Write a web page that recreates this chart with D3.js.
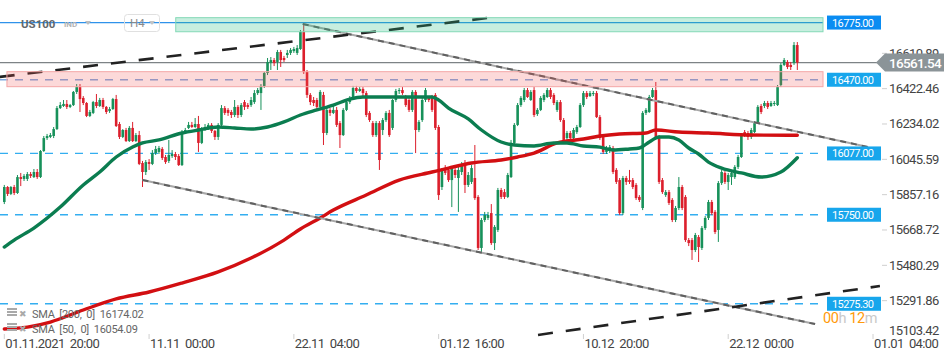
<!DOCTYPE html>
<html><head><meta charset="utf-8">
<script src="https://cdn.jsdelivr.net/npm/d3@7"></script>
<style>html,body{margin:0;padding:0;background:#fff;}svg{display:block;font-family:Roboto,"Noto Sans",sans-serif;}</style>
</head><body>
<svg id="chart" width="950" height="361"></svg>
<script>
// ---------- DATA ----------
const symbol = "US100", symbolType = "IND", timeframe = "H4";
const opens = [
15818,15898,15861,15898,15866,15951,15941,15941,15967,15951,
15978,15951,16090,16159,16165,16170,16207,16319,16330,16341,
16325,16335,16405,16431,16373,16346,16277,16293,16351,16330,
16362,16325,16303,16314,16367,16234,16165,16202,16143,16213,
16143,16175,16026,15978,16031,16021,16079,16085,16101,16058,
16037,16063,16074,16063,16015,16186,16213,16229,16218,16234,
16133,16207,16213,16229,16197,16165,16229,16319,16309,16298,
16282,16325,16282,16351,16335,16335,16351,16399,16399,16437,
16506,16559,16575,16565,16618,16586,16602,16613,16623,16613,
16634,16725,16511,16389,16362,16362,16325,16389,16186,16309,
16293,16309,16239,16175,16309,16351,16373,16426,16410,16421,
16399,16293,16239,16175,16239,16202,16255,16293,16213,16362,
16410,16415,16378,16362,16309,16405,16202,16255,16362,16373,
16378,16389,16218,15898,15999,15989,15935,15989,15946,15978,
16015,15909,15925,15946,15845,15573,15722,15733,15759,15599,
15669,15882,15871,15845,15951,16133,16229,16335,16362,16415,
16362,16415,16287,16309,16362,16378,16415,16389,16309,16351,
16255,16159,16186,16159,16191,16218,16335,16399,16383,16394,
16399,16271,16165,16085,16090,16106,15989,15935,15759,15946,
15935,15935,15909,15845,15786,16293,16298,16378,16415,16165,
15935,15855,15871,15829,15722,15786,15898,15845,15615,15615,
15562,15631,15573,15679,15733,15818,15765,15669,15919,15973,
15925,15951,15951,16005,16058,16191,16186,16165,16191,16239,
16330,16330,16346,16330,16341,16335,16442,16549,16565,16549,16559,16655];
const highs = [
15909,15903,15903,15909,15962,15973,15967,15978,15978,15994,
15994,16095,16170,16181,16186,16218,16330,16351,16362,16362,
16341,16410,16447,16447,16383,16351,16309,16357,16394,16373,
16373,16330,16325,16373,16389,16245,16207,16213,16223,16245,
16186,16197,16037,16042,16047,16095,16117,16117,16111,16069,
16149,16095,16085,16074,16202,16213,16245,16245,16266,16277,
16218,16234,16239,16239,16202,16239,16335,16330,16319,16309,
16362,16335,16346,16362,16346,16378,16415,16426,16447,16511,
16586,16591,16586,16629,16629,16597,16629,16639,16645,16655,
16735,16767,16522,16399,16378,16373,16415,16405,16319,16319,
16335,16325,16250,16319,16362,16383,16437,16437,16431,16431,
16410,16303,16250,16250,16250,16266,16303,16309,16367,16421,
16426,16431,16389,16373,16415,16415,16255,16373,16426,16383,
16389,16399,16229,15999,16015,15999,16010,15999,16015,16031,
16042,15978,16015,16122,15855,15733,15765,15765,15807,15695,
15893,15893,15887,15973,16149,16239,16346,16383,16426,16426,
16415,16431,16319,16383,16399,16426,16426,16399,16362,16362,
16266,16197,16197,16213,16229,16346,16410,16410,16410,16410,
16410,16282,16175,16117,16122,16117,15999,15946,15957,15957,
15989,15946,15919,15855,16303,16319,16389,16426,16458,16175,
15946,15882,15882,15839,15797,15951,15909,15855,15626,15626,
15653,15642,15690,15743,15829,15829,15775,15930,15989,15983,
15973,15983,16015,16069,16186,16202,16197,16213,16250,16335,
16341,16357,16357,16357,16357,16442,16559,16586,16575,16565,16671,16671];
const lows = [
15807,15850,15855,15855,15861,15903,15930,15930,15946,15946,
15941,15946,16085,16149,16159,16159,16202,16314,16325,16314,
16319,16330,16394,16298,16335,16271,16271,16287,16319,16325,
16314,16287,16293,16309,16218,16154,16159,16138,16138,16138,
16138,16015,15898,15962,15989,16015,16069,16074,16042,16021,
16026,16053,16042,16010,16010,16181,16207,16213,16213,16085,
16127,16197,16202,16186,16149,16149,16223,16282,16277,16266,
16271,16266,16271,16309,16314,16325,16341,16389,16309,16426,
16495,16522,16543,16522,16538,16565,16586,16602,16613,16602,
16629,16501,16373,16335,16330,16314,16309,16122,16175,16277,
16287,16218,16106,16170,16303,16341,16362,16399,16405,16383,
16271,16245,16165,16165,15989,16175,16245,16165,16202,16351,
16394,16389,16325,16298,16298,16079,16191,16245,16351,16351,
16298,16202,15829,15882,15962,15925,15791,15946,15765,15962,
15866,15898,15914,15829,15562,15546,15711,15722,15589,15562,
15658,15834,15834,15839,15946,16122,16223,16325,16351,16373,
16357,16271,16277,16303,16351,16373,16367,16335,16298,16245,
16138,16149,16149,16149,16181,16213,16325,16367,16378,16383,
16266,16149,16074,16074,16079,15967,15914,15749,15749,15909,
15914,15887,15829,15818,15775,16282,16293,16373,16159,15914,
15861,15845,15802,15711,15711,15775,15775,15605,15583,15509,
15551,15498,15562,15669,15722,15749,15647,15605,15909,15914,
15882,15909,15941,15994,16053,16165,16149,16154,16186,16234,
16287,16319,16314,16325,16330,16330,16431,16543,16527,16522,16549,16522];
const closes = [
15898,15861,15898,15866,15951,15941,15957,15967,15957,15978,
15951,16090,16159,16170,16175,16207,16319,16335,16341,16325,
16335,16405,16431,16367,16346,16277,16298,16351,16330,16362,
16325,16298,16314,16367,16223,16165,16202,16143,16213,16143,
16175,16021,15978,16031,16021,16079,16101,16106,16053,16031,
16069,16074,16058,16015,16191,16202,16229,16218,16234,16133,
16207,16218,16229,16197,16165,16229,16319,16293,16293,16282,
16325,16282,16335,16325,16325,16362,16399,16415,16437,16506,
16565,16575,16559,16618,16575,16575,16613,16629,16634,16639,
16725,16511,16389,16351,16346,16325,16405,16186,16309,16293,
16309,16229,16175,16309,16351,16373,16426,16410,16421,16399,
16282,16255,16175,16239,16042,16255,16293,16175,16362,16410,
16415,16399,16335,16309,16405,16202,16245,16362,16415,16362,
16309,16213,15855,15989,15973,15935,15999,15962,15989,16015,
15909,15962,15999,15839,15573,15722,15749,15749,15599,15685,
15882,15845,15845,15962,16133,16229,16335,16373,16415,16378,
16405,16282,16309,16373,16389,16415,16378,16346,16351,16255,
16149,16186,16159,16202,16218,16335,16399,16378,16399,16399,
16271,16159,16085,16106,16111,15978,15925,15759,15946,15925,
15925,15898,15839,15829,16293,16309,16378,16415,16165,15925,
15871,15871,15813,15722,15786,15898,15786,15615,15599,15562,
15642,15578,15679,15733,15818,15759,15658,15919,15978,15925,
15962,15973,16005,16058,16175,16175,16165,16202,16239,16325,
16298,16346,16325,16346,16346,16431,16549,16575,16538,16538,16655,16561.54];

const sma50Idx = [0,3,9,17,24,29,34,39,42,47,54,59,65,70,75,80,85,90,95,100,105,109,120,130,132,135,141,145,151,155,161,167,171,176,181,185,190,193,196,199,202,205,208,211,214,218,224,230,236,241];
const sma50Val = [15578,15615,15679,15791,15909,15978,16058,16111,16133,16149,16186,16202,16218,16213,16207,16218,16245,16282,16309,16335,16367,16378,16378,16378,16362,16319,16261,16202,16138,16122,16117,16133,16133,16117,16111,16095,16101,16106,16138,16165,16165,16149,16106,16074,16031,15999,15973,15951,15978,16054.09];
const sma200Idx = [0,7,14,24,34,44,54,65,75,85,90,96,100,110,120,130,135,142,151,156,161,168,176,181,187,195,198,205,214,227,241];
const sma200Val = [15141,15151,15178,15242,15301,15338,15386,15445,15519,15615,15674,15733,15775,15855,15935,15978,15999,16026,16042,16058,16079,16133,16154,16170,16181,16186,16202,16191,16186,16175,16174.02];

const levelValues = [16775.00, 16470.00, 16077.00, 15750.00, 15275.30];
const levelLabels = ["16775.00","16470.00","16077.00","15750.00","15275.30"];
const currentPrice = 16561.54;
const yTickValues = [16610.89,16422.46,16234.02,16045.59,15857.16,15668.72,15480.29,15291.86,15103.42];
const xTickIdx = [0,44,88,132,176,220,264];
const xTickLabels = ["01.11.2021  20:00","11.11  00:00","22.11  04:00","01.12  16:00","10.12  20:00","22.12  00:00","01.01  04:00"];
const legendLabels = ["SMA  [200,  0]  16174.02","SMA  [50,  0]  16054.09"];
const countdown = ["00","h"," 12","m"];
// trend lines: [index, price]
const greyUpper = [[90.7,16767],[262.5,16111]];
const greyLower = [[42,15935],[246.4,15167]];
const blackUpper = [[-1.4,16485],[146.7,16799]];
const blackLower = [[162.2,15109],[266.1,15370]];
// zones: [startIndex, top price, bottom price]
const greenZone = [52.1,16801,16726];
const pinkZone = [0.8,16513,16433];

// ---------- SCALES ----------
const svg = d3.select("#chart");
const x = d3.scaleLinear().domain([0,264]).range([4.3,873]);
const y = d3.scaleLinear().domain([15103.42,16610.89]).range([336,53.33]);
const lineEnd = 823;
const candles = opens.map((o,i)=>({i,o,h:highs[i],l:lows[i],c:closes[i]}));

// ---------- LEVEL LINES ----------
const gLev = svg.append("g");
levelValues.forEach((v,k)=>{
  const ln = gLev.append("line").attr("x1",0).attr("x2",lineEnd).attr("y1",y(v)).attr("y2",y(v))
    .attr("stroke-width",1.3);
  if(k===0){ ln.attr("stroke","#2f92ea"); }
  else if(k===1){ ln.attr("stroke","#7fa9e0").attr("stroke-dasharray","8,7"); }
  else { ln.attr("stroke","#34aef0").attr("stroke-dasharray","8,7"); }
});
// current price line
svg.append("line").attr("x1",0).attr("x2",877).attr("y1",y(currentPrice)).attr("y2",y(currentPrice))
  .attr("stroke","#7d8386").attr("stroke-width",1.2);

// ---------- CANDLES ----------
const gC = svg.append("g");
const up = "#17915a", dn = "#dc1f2c";
gC.selectAll("line.w").data(candles).join("line")
  .attr("x1",d=>x(d.i)).attr("x2",d=>x(d.i))
  .attr("y1",d=>y(Math.max(d.h,d.o,d.c))).attr("y2",d=>y(Math.min(d.l,d.o,d.c)))
  .attr("stroke",d=>d.c>=d.o?up:dn).attr("stroke-width",1);
gC.selectAll("rect").data(candles).join("rect")
  .attr("x",d=>x(d.i)-1.3).attr("width",2.6)
  .attr("y",d=>y(Math.max(d.o,d.c)))
  .attr("height",d=>Math.max(1,Math.abs(y(d.o)-y(d.c))))
  .attr("fill",d=>d.c>=d.o?up:dn);

// ---------- SMA ----------
const smaLine = d3.line().x(d=>x(d[0])).y(d=>y(d[1])).curve(d3.curveMonotoneX);
svg.append("path").attr("d",smaLine(sma200Idx.map((v,k)=>[v,sma200Val[k]])))
  .attr("fill","none").attr("stroke","#d20f12").attr("stroke-width",3.4).attr("stroke-linecap","round");
svg.append("path").attr("d",smaLine(sma50Idx.map((v,k)=>[v,sma50Val[k]])))
  .attr("fill","none").attr("stroke","#0b7d50").attr("stroke-width",3.4).attr("stroke-linecap","round");

// ---------- TREND LINES ----------
const tl = d3.line().x(d=>x(d[0])).y(d=>y(d[1]));
[greyUpper,greyLower].forEach(p=>{
  svg.append("path").attr("d",tl(p)).attr("stroke","#a8a8a8").attr("stroke-width",2).attr("fill","none");
  svg.append("path").attr("d",tl(p)).attr("stroke","#606060").attr("stroke-width",2).attr("fill","none").attr("stroke-dasharray","6,5");
});
[blackUpper,blackLower].forEach(p=>{
  svg.append("path").attr("d",tl(p)).attr("stroke","#222").attr("stroke-width",2.6).attr("fill","none").attr("stroke-dasharray","15,13");
});

// ---------- ZONES ----------
svg.append("rect").attr("x",x(greenZone[0])).attr("y",y(greenZone[1]))
  .attr("width",lineEnd-x(greenZone[0])).attr("height",y(greenZone[2])-y(greenZone[1]))
  .attr("fill","rgba(40,190,130,0.26)").attr("stroke","#84d9b7").attr("stroke-width",1);
svg.append("rect").attr("x",x(pinkZone[0])).attr("y",y(pinkZone[1]))
  .attr("width",lineEnd-x(pinkZone[0])).attr("height",y(pinkZone[2])-y(pinkZone[1]))
  .attr("fill","rgba(240,80,80,0.22)").attr("stroke","#f4a6a6").attr("stroke-width",1);

// ---------- Y AXIS ----------
const gY = svg.append("g");
yTickValues.forEach(v=>{
  const yy = y(v);
  if(yy < 333){
    gY.append("line").attr("x1",882).attr("x2",887).attr("y1",yy).attr("y2",yy).attr("stroke","#cfcfcf");
  }
  gY.append("text").attr("x",889).attr("y",Math.min(yy,330)+4.5).text(d3.format(".2f")(v))
    .attr("font-size",13).attr("letter-spacing",-0.6).attr("fill","#444");
});
// level label boxes
levelValues.forEach((v,k)=>{
  svg.append("rect").attr("x",827).attr("y",y(v)-7).attr("width",54).attr("height",14)
    .attr("fill",k===0?"#0a8cf2":"#17a6ec");
  svg.append("text").attr("x",832).attr("y",y(v)+4).text(levelLabels[k])
    .attr("font-size",11).attr("letter-spacing",-0.6).attr("fill","#fff");
});
// current price tag
const py = y(currentPrice);
svg.append("path").attr("d",`M876,${py} L885,${py-9} L944,${py-9} L944,${py+9} L885,${py+9} Z`).attr("fill","#8b9498");
svg.append("text").attr("x",889).attr("y",py+5).text(d3.format(".2f")(currentPrice))
  .attr("font-size",13.5).attr("font-weight",500).attr("letter-spacing",-0.7).attr("fill","#fff");

// countdown
const cd = svg.append("text").attr("x",823).attr("y",323).attr("font-size",14.5).attr("letter-spacing",-0.4).style("white-space","pre");
countdown.forEach((s,k)=>cd.append("tspan").text(s).attr("fill",k%2===0?"#ff9a0a":"#c9c9c9"));

// ---------- X AXIS ----------
xTickIdx.forEach((t,k)=>{
  const xx = x(t);
  svg.append("line").attr("x1",xx).attr("x2",xx).attr("y1",334).attr("y2",339).attr("stroke","#d0d0d0");
  svg.append("text").attr("x",xx+1).attr("y",348).text(xTickLabels[k])
    .attr("font-size",13).attr("letter-spacing",-0.6).attr("fill","#444").style("white-space","pre");
});

// ---------- LEGEND ----------
legendLabels.forEach((s,k)=>{
  const by = 318 + k*15;
  const g = svg.append("g");
  [0,3,6].forEach(o=>g.append("rect").attr("x",7).attr("y",by-10+o).attr("width",10).attr("height",2).attr("fill","#a9a9a9"));
  g.append("text").attr("x",19).attr("y",by-1).text("✖").attr("font-size",9).attr("fill","#a9a9a9").attr("font-family","DejaVu Sans");
  g.append("text").attr("x",32).attr("y",by).text(s).attr("font-size",11).attr("letter-spacing",-0.3).attr("fill","#666").style("white-space","pre");
});

// ---------- TITLE ----------
svg.append("text").attr("x",21).attr("y",27.5).text(symbol).attr("font-size",11.5).attr("font-weight",700).attr("fill","#62676b");
svg.append("text").attr("x",64).attr("y",27).text(symbolType).attr("font-size",8).attr("font-weight",700).attr("fill","#b3b3b3");
svg.append("path").attr("d","M85,21 L91,21 L88,25 Z").attr("fill","#bdbdbd");
svg.append("rect").attr("x",124.5).attr("y",14.5).attr("width",35).attr("height",17).attr("rx",3)
  .attr("fill","none").attr("stroke","#e0e0e0");
svg.append("text").attr("x",130).attr("y",27).text(timeframe).attr("font-size",11.5).attr("fill","#8a8a8a");
svg.append("path").attr("d","M149,21 L155,21 L152,25 Z").attr("fill","#c4c4c4");
</script>
</body></html>
